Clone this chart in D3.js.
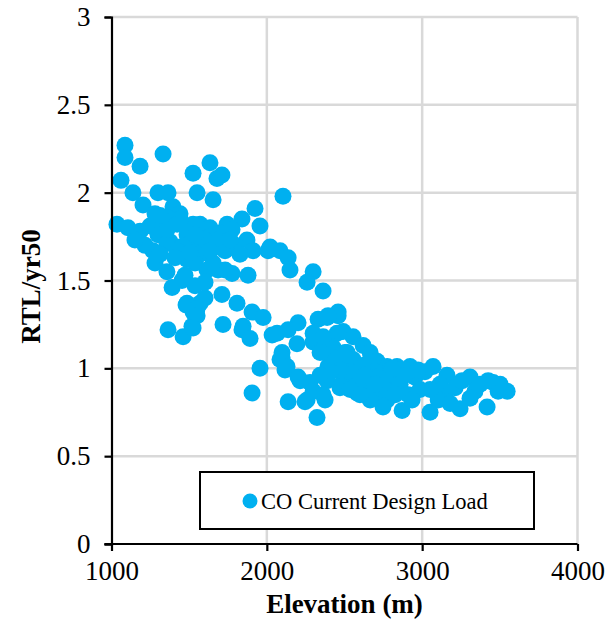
<!DOCTYPE html>
<html>
<head>
<meta charset="utf-8">
<script src="https://cdn.jsdelivr.net/npm/d3@7"></script>
<style>
  html, body { margin: 0; padding: 0; background: #fff; }
  svg text { font-family: "Times New Roman", "Liberation Serif", "DejaVu Serif", serif; fill: #000; }
</style>
</head>
<body>
<svg id="chart" width="609" height="624"></svg>
<script>
// ---- data ----
const seriesName = "CO Current Design Load";
const elevation = [
  1035,1061,1087,1087,1332,1634,1525,1679,1551,1654,1184,1138,1299,1364,1203,1280,1396,1441,1106,1184,
  1248,1325,1299,1377,1486,1570,1634,1551,1441,2104,1924,1956,1840,1744,1872,2021,2085,2137,2149,1879,
  1776,1686,1570,1486,1280,1267,1357,1357,1390,1454,1486,1570,1602,1525,1364,1518,1718,1847,1634,1698,
  1776,1589,1666,1505,1422,1525,1441,1357,1461,1711,1911,2008,1731,1711,1808,1905,1976,1840,1892,2034,
  2098,1956,1905,1615,1654,1538,1480,1551,1551,1525,
  1216,1312,1409,1505,1602,1686,1731,1795,1827,1634,1357,1422,1538,1763,1473,1538,1602,1312,1151,
  2298,2259,2362,2459,2388,2330,2201,2137,2298,2356,2452,2491,2555,2620,2665,2710,2775,2194,2085,2117,
  2214,2278,2259,2137,2323,2375,2388,2394,2394,2426,2517,2491,2581,2555,2471,2645,2684,2774,2813,2838,
  2066,2098,2130,2201,2298,2362,2343,2452,2504,2555,2246,2298,2362,2491,2581,2665,2748,2793,2459,2394,
  2536,2600,2472,2407,2343,2536,2633,2697,2761,
  2813,2922,3070,3160,3308,3457,3547,2748,2871,3051,3244,3418,2858,2910,2954,2986,3018,3115,3147,3212,
  3257,3340,3373,3489,3502,2761,2826,2716,2633,2935,3103,3308,3180,2973,2890,3425,2697,2600,3051
];
const ratio = [
  1.82,2.07,2.27,2.20,2.22,2.17,2.11,2.08,2.00,1.96,2.15,2.00,2.00,2.00,1.93,1.88,1.92,1.88,1.80,1.78,
  1.81,1.83,1.76,1.72,1.76,1.82,1.80,1.70,1.69,1.98,1.91,1.81,1.85,1.82,1.73,1.69,1.67,1.63,1.56,1.53,
  1.54,1.56,1.65,1.62,1.60,1.67,1.71,1.55,1.46,1.50,1.37,1.37,1.40,1.32,1.22,1.24,1.25,1.24,1.75,1.77,
  1.79,1.70,1.69,1.71,1.67,1.82,1.85,1.86,1.18,2.10,1.67,1.67,1.56,1.42,1.37,1.32,1.29,1.22,1.17,1.19,
  1.09,1.00,0.86,1.56,1.60,1.60,1.36,1.34,1.30,1.23,
  1.70,1.65,1.63,1.66,1.73,1.73,1.67,1.70,1.65,1.67,1.79,1.82,1.76,1.73,1.53,1.47,1.49,1.87,1.73,
  1.55,1.49,1.44,1.30,1.29,1.28,1.26,1.22,1.20,1.16,1.20,1.21,1.18,1.13,1.09,1.04,1.01,1.14,1.05,0.99,
  0.93,0.92,0.82,0.81,0.72,0.82,0.93,1.01,1.09,1.12,1.09,1.04,1.01,0.93,0.89,0.89,0.86,0.82,0.93,1.01,
  1.20,1.06,1.01,0.95,1.15,1.18,1.09,1.06,1.09,1.05,0.81,0.87,0.85,0.93,0.86,0.82,0.80,0.99,1.32,1.30,
  0.98,0.93,0.99,0.98,0.96,0.88,1.02,0.98,0.95,
  1.00,1.01,1.01,0.96,0.95,0.92,0.87,0.78,0.76,0.75,0.77,0.78,0.91,0.85,0.95,0.88,0.98,0.91,0.84,0.89,
  0.93,0.87,0.91,0.87,0.91,0.88,0.85,0.95,0.96,0.82,0.82,0.83,0.80,0.99,0.96,0.93,0.91,0.85,0.88
];
const xTicks = [1000, 2000, 3000, 4000];
const yTicks = [0, 0.5, 1, 1.5, 2, 2.5, 3];
const xTitle = "Elevation (m)";
const yTitle = "RTL/yr50";

// ---- layout ----
const FONT = '"Times New Roman", "Liberation Serif", "DejaVu Serif", serif';
const svg = d3.select("#chart");
const pLeft = 111.5, pRight = 577.5, pTop = 17, pBottom = 544;
const x = d3.scaleLinear().domain([1000, 4000]).range([pLeft, pRight]);
const y = d3.scaleLinear().domain([0, 3]).range([pBottom, pTop]);
const color = "#00B0F0";

// gridlines
const grid = svg.append("g");
grid.selectAll("line.v").data(xTicks.slice(1)).join("line")
  .attr("x1", d => x(d)).attr("x2", d => x(d))
  .attr("y1", pTop).attr("y2", pBottom)
  .attr("stroke", "#d9d9d9").attr("stroke-width", 2.5);
grid.selectAll("line.h").data(yTicks.slice(1)).join("line")
  .attr("x1", pLeft).attr("x2", pRight)
  .attr("y1", d => y(d)).attr("y2", d => y(d))
  .attr("stroke", "#d9d9d9").attr("stroke-width", 2.5);

// points
const pts = elevation.map((e, i) => ({ e, r: ratio[i] }));
svg.append("g").selectAll("circle").data(pts).join("circle")
  .attr("cx", d => x(d.e)).attr("cy", d => y(d.r))
  .attr("r", 8.5).attr("fill", color);

// axes
const xAxis = d3.axisBottom(x).tickValues(xTicks).tickSize(7).tickPadding(10).tickFormat(d3.format("d"));
const yAxis = d3.axisLeft(y).tickValues(yTicks).tickSize(7).tickPadding(14).tickFormat(d => String(d));

const gx = svg.append("g").attr("transform", `translate(0,${pBottom})`).call(xAxis);
const gy = svg.append("g").attr("transform", `translate(${pLeft},0)`).call(yAxis);
[gx, gy].forEach(g => {
  g.attr("font-family", FONT).attr("font-size", 27);
  g.select(".domain").attr("stroke", "#000").attr("stroke-width", 2.2);
  g.selectAll(".tick line").attr("stroke", "#000").attr("stroke-width", 2.2);
  g.selectAll(".tick text").attr("font-family", FONT).style("font-family", FONT)
    .style("font-size", "27px").attr("fill", "#000");
});
gx.select(".domain").attr("d", `M${pLeft - 7},0H${pRight}`);

// axis titles
svg.append("text").attr("x", (pLeft + pRight) / 2).attr("y", 613)
  .attr("text-anchor", "middle").style("font-family", FONT).style("font-size", "27px").style("font-weight", "bold")
  .text(xTitle);
svg.append("text").attr("transform", `translate(40,${(pTop + pBottom) / 2 + 6}) rotate(-90)`)
  .attr("text-anchor", "middle").style("font-family", FONT).style("font-size", "27px").style("font-weight", "bold")
  .text(yTitle);

// legend
const lg = svg.append("g");
lg.append("rect").attr("x", 200).attr("y", 472).attr("width", 334).attr("height", 57)
  .attr("fill", "#fff").attr("stroke", "#000").attr("stroke-width", 2);
lg.append("circle").attr("cx", 250).attr("cy", 501).attr("r", 7.5).attr("fill", color);
lg.append("text").attr("x", 261).attr("y", 509).style("font-family", FONT).style("font-size", "22.5px").text(seriesName);
</script>
</body>
</html>
